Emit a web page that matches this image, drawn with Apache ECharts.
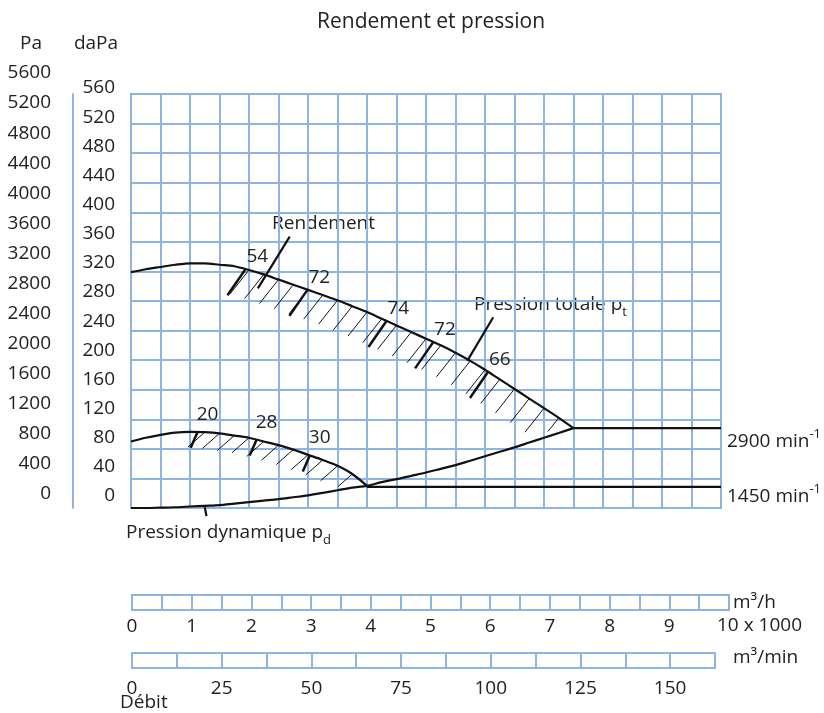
<!DOCTYPE html>
<html>
<head>
<meta charset="utf-8">
<title>Rendement et pression</title>
<script src="https://cdn.jsdelivr.net/npm/echarts@6/dist/echarts.min.js"></script>
<style>
  html, body { margin: 0; padding: 0; background: #fff; }
  #main { width: 824px; height: 713px; }
</style>
</head>
<body>
<div id="main"></div>
<script>
// débit en milliers de m3/h, pressions en daPa
var flowX = [0, 0.25, 0.5, 0.75, 1, 1.25, 1.5, 1.75, 2, 2.25, 2.5, 2.75, 3, 3.25, 3.5, 3.75,
             4, 4.25, 4.5, 4.75, 5, 5.25, 5.5, 5.75, 6, 6.25, 6.5, 6.75, 7, 7.25, 7.5];
// pression totale à 2900 min-1
var pt2900 = [319, 323, 326, 329, 331, 331, 329, 327, 322, 316, 309, 302, 295, 288, 281, 273,
              265, 256, 247, 238, 229, 220, 210, 199, 187, 174, 161, 148, 135, 122, 108];
// pression dynamique
var pd = [0, 0, 0.5, 1, 2, 3, 4, 6, 8, 10, 12, 14.5, 17, 20.5, 24, 27.5,
          30, 35, 39, 43.5, 48, 53, 58, 64, 70, 76, 82, 88.5, 95, 101.5, 108];
// pression totale à 1450 min-1
var flow1450 = [0, 0.25, 0.5, 0.75, 1, 1.25, 1.5, 1.75, 2, 2.25, 2.5, 2.75, 3, 3.25, 3.5, 3.75, 4];
var pt1450 = [90, 95, 99, 102, 103, 102.5, 101, 98, 95, 90, 85, 79, 72, 65, 57, 46, 30];

var flat2900 = [[7.5, 108], [10, 108]];
var flat1450 = [[4, 28.5], [10, 28.5]];

// rendements (%)
var eff2900X = [1.94, 2.99, 4.33, 5.12, 6.05];
var eff2900Y = [323, 295, 253, 224, 184];
var eff2900Labels = ['54', '72', '74', '72', '66'];
var eff1450X = [1.13, 2.13, 3.03];
var eff1450Y = [103, 92.5, 71];
var eff1450Labels = ['20', '28', '30'];

// renvois des légendes
var rendementLeader = [[2.69, 367], [2.15, 297]];
var ptLeader = [[6.14, 258], [5.70, 199]];
var pdLeader = [[1.25, 1], [1.28, -11]];

var blue = '#8DB4E2';
var ink = '#111';
var txt = '#222';
var ff = 'Open Sans';
var fs = 19;

var chart = echarts.init(document.getElementById('main'));

function pairs(xs, ys) {
  return xs.map(function (x, i) { return [x, ys[i]]; });
}

var hatch2900 = [];
flowX.forEach(function (x, i) {
  if (x >= 2 && x <= 7.25) hatch2900.push([x, pt2900[i], pd[i]]);
});
var hatch1450 = [];
flow1450.forEach(function (x, i) {
  if (x >= 1.25 && x <= 3.75) hatch1450.push([x, pt1450[i], pd[i]]);
});

function curve(data, smooth) {
  return {
    type: 'line', xAxisIndex: 0, yAxisIndex: 0, data: data,
    showSymbol: false, smooth: smooth, silent: true, clip: false,
    lineStyle: { color: ink, width: 2.2 }
  };
}

function hatchSeries(data, dx, dy) {
  return {
    type: 'custom', xAxisIndex: 0, yAxisIndex: 0, silent: true,
    data: data,
    renderItem: function (params, api) {
      var top = api.coord([api.value(0), api.value(1)]);
      var low = api.coord([api.value(0), api.value(2)]);
      var k = Math.min(1, (low[1] - top[1]) * 0.9 / dy);
      return {
        type: 'line',
        shape: { x1: top[0], y1: top[1], x2: top[0] + dx * k, y2: top[1] + dy * k },
        style: { stroke: ink, lineWidth: 1 }
      };
    }
  };
}

function effSeries(xs, ys, labels, dx, dy, lx, ly) {
  return {
    type: 'custom', xAxisIndex: 0, yAxisIndex: 0, silent: true,
    data: pairs(xs, ys),
    renderItem: function (params, api) {
      var p = api.coord([api.value(0), api.value(1)]);
      return {
        type: 'group',
        children: [
          { type: 'line', shape: { x1: p[0], y1: p[1], x2: p[0] + dx, y2: p[1] + dy },
            style: { stroke: ink, lineWidth: 2.5 } },
          { type: 'text', x: p[0] + lx, y: p[1] + ly,
            style: { text: labels[params.dataIndex], font: fs + 'px ' + ff, fill: txt,
                     align: 'left', verticalAlign: 'bottom' } }
        ]
      };
    }
  };
}

function label(text, x, y, align, rich) {
  var s = { text: text, font: fs + 'px ' + ff, fill: txt, align: align || 'left', verticalAlign: 'middle' };
  if (rich) s.rich = rich;
  return { type: 'text', x: x, y: y, style: s, silent: true };
}

var subRich = {
  a: { fontSize: fs, fontFamily: ff, color: txt, lineHeight: 28 },
  s: { fontSize: 13, fontFamily: ff, color: txt, verticalAlign: 'bottom' },
  u: { fontSize: 13, fontFamily: ff, color: txt, verticalAlign: 'top' }
};

var hiddenX = { show: false, min: 0, max: 1 };
var labelStyle = { fontFamily: ff, fontSize: fs, color: txt };

var option = {
  animation: false,
  title: {
    text: 'Rendement et pression', left: 312, top: 7,
    textStyle: { fontFamily: ff, fontSize: 21, fontWeight: 'normal', color: txt }
  },
  grid: [
    { left: 131, top: 94, width: 590, height: 414, show: true, borderColor: blue, borderWidth: 2 },
    { left: 120, top: 88, width: 1, height: 408 },
    { left: 56, top: 73, width: 1, height: 421 },
    { left: 132, top: 595, width: 597, height: 15, show: true, borderColor: blue, borderWidth: 2 },
    { left: 132, top: 653, width: 583, height: 15, show: true, borderColor: blue, borderWidth: 2 }
  ],
  xAxis: [
    { gridIndex: 0, type: 'value', min: 0, max: 10, interval: 0.5,
      axisLine: { show: false }, axisTick: { show: false }, axisLabel: { show: false },
      splitLine: { show: true, lineStyle: { color: blue, width: 2 } } },
    Object.assign({ gridIndex: 1, type: 'value' }, hiddenX),
    Object.assign({ gridIndex: 2, type: 'value' }, hiddenX),
    { gridIndex: 3, type: 'value', min: 0, max: 10, interval: 0.5,
      axisLine: { show: false }, axisTick: { show: false },
      axisLabel: Object.assign({ margin: 7,
        formatter: function (v) { return (v % 1 === 0 && v < 10) ? String(v) : ''; } }, labelStyle),
      splitLine: { show: true, lineStyle: { color: blue, width: 2 } } },
    { gridIndex: 4, type: 'value', min: 0, max: 162.5, interval: 12.5,
      axisLine: { show: false }, axisTick: { show: false },
      axisLabel: Object.assign({ margin: 11,
        formatter: function (v) { return v % 25 === 0 ? String(v) : ''; } }, labelStyle),
      splitLine: { show: true, lineStyle: { color: blue, width: 2 } } }
  ],
  yAxis: [
    { gridIndex: 0, type: 'value', min: 0, max: 560, interval: 40, position: 'left', offset: 58,
      axisLine: { show: true, onZero: false, lineStyle: { color: blue, width: 2 } },
      axisTick: { show: false }, axisLabel: { show: false },
      splitLine: { show: true, lineStyle: { color: blue, width: 2 } } },
    { gridIndex: 1, type: 'value', min: 0, max: 560, interval: 40,
      axisLine: { show: false }, axisTick: { show: false }, splitLine: { show: false },
      axisLabel: Object.assign({ margin: 5 }, labelStyle) },
    { gridIndex: 2, type: 'value', min: 0, max: 5600, interval: 400,
      axisLine: { show: false }, axisTick: { show: false }, splitLine: { show: false },
      axisLabel: Object.assign({ margin: 5, formatter: function (v) { return String(v); } }, labelStyle) },
    { gridIndex: 3, type: 'value', show: false, min: 0, max: 1 },
    { gridIndex: 4, type: 'value', show: false, min: 0, max: 1 }
  ],
  series: [
    hatchSeries(hatch2900, -19, 24),
    hatchSeries(hatch1450, -17, 15),
    curve(pairs(flowX, pt2900), 0.3),
    curve(pairs(flow1450, pt1450), 0.3),
    curve(pairs(flowX, pd), 0.3),
    curve(flat2900, false),
    curve(flat1450, false),
    curve(rendementLeader, false),
    curve(ptLeader, false),
    curve(pdLeader, false),
    effSeries(eff2900X, eff2900Y, eff2900Labels, -18, 26, 1, -3),
    effSeries(eff1450X, eff1450Y, eff1450Labels, -7, 16, -1, -8)
  ],
  graphic: [
    label('Pa', 31, 44, 'center'),
    label('daPa', 96, 44, 'center'),
    label('Rendement', 272, 224),
    label('{a|Pression totale p}{s|t}', 474, 305, 'left', subRich),
    label('{a|Pression dynamique p}{s|d}', 126, 533, 'left', subRich),
    label('{a|2900 min}{u|-1}', 727, 442, 'left', subRich),
    label('{a|1450 min}{u|-1}', 727, 497, 'left', subRich),
    label('m³/h', 733, 603),
    label('10 x 1000', 717, 626),
    label('m³/min', 733, 658),
    label('Débit', 120, 703)
  ]
};

chart.setOption(option);
</script>
</body>
</html>
